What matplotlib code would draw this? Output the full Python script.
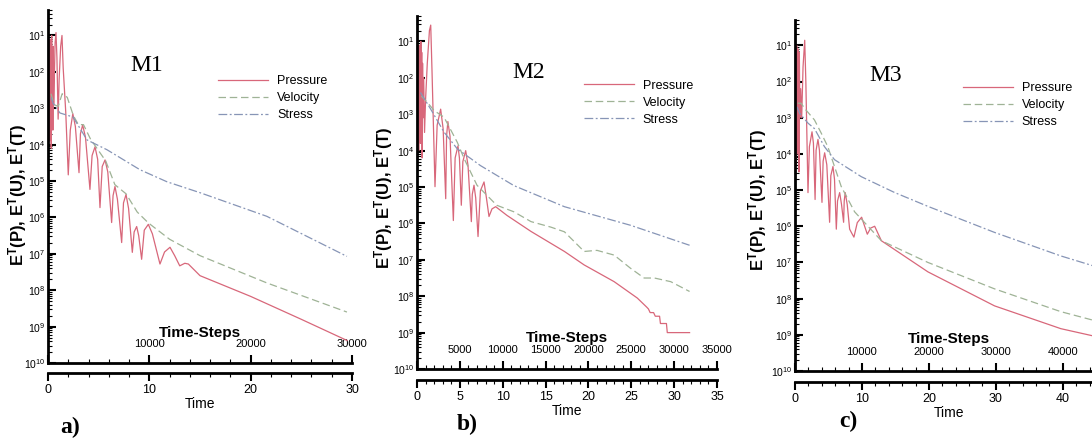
import matplotlib
matplotlib.use('Agg')
import matplotlib.pyplot as plt
import numpy as np
from matplotlib.ticker import LogLocator, NullFormatter, FuncFormatter, MultipleLocator

plt.rcParams['font.family'] = ['Liberation Sans', 'DejaVu Sans']
plt.rcParams['mathtext.fontset'] = 'custom'
plt.rcParams['mathtext.rm'] = 'Liberation Sans'
plt.rcParams['mathtext.it'] = 'Liberation Sans:italic'
plt.rcParams['mathtext.bf'] = 'Liberation Sans:bold'

# ---- data: time and log10 of the error norms ----
# panel a (M1)
t_p_a = [0.00, 0.04, 0.08, 0.12, 0.16, 0.20, 0.24, 0.28, 0.32, 0.36, 0.40, 0.44, 0.48, 0.52,
         0.56, 0.62, 0.70, 0.79, 0.88, 1.00, 1.10, 1.25, 1.38, 1.50, 1.75, 2.00, 2.20, 2.45,
         2.70, 3.06, 3.20, 3.42, 3.70, 4.14, 4.35, 4.64, 4.90, 5.13, 5.35, 5.63, 5.90, 6.28,
         6.42, 6.61, 6.85, 7.27, 7.45, 7.70, 7.95, 8.32, 8.50, 8.75, 8.95, 9.24, 9.50, 9.90,
         10.30, 11.05, 11.50, 12.04, 12.50, 13.00, 13.50, 13.85, 15.00, 20.00, 25.00, 29.50]
lp_a = [-1.8, -1.0, -3.4, -1.2, -3.9, -1.1, -3.0, -1.4, -4.1, -1.0, -3.2, -1.6, -3.6, -1.3,
        -2.9, -2.2, -1.2, -0.92, -1.6, -3.3, -2.2, -1.3, -1.0, -1.9, -3.1, -4.83, -3.6, -3.15,
        -3.5, -4.77, -3.7, -3.46, -3.8, -5.23, -4.3, -4.06, -4.4, -5.73, -4.6, -4.42, -4.75, -6.14,
        -5.4, -5.15, -5.5, -6.69, -5.6, -5.37, -5.75, -6.96, -6.4, -6.25, -6.5, -7.15, -6.35, -6.19,
        -6.45, -7.28, -6.95, -6.82, -7.05, -7.33, -7.26, -7.28, -7.60, -8.17, -8.80, -9.38]
t_u_a = [0.30, 0.60, 1.00, 1.40, 1.90, 2.50, 3.00, 3.50, 4.20, 4.70, 5.70, 6.60, 7.70, 8.80,
         9.90, 12.00, 15.00, 21.60, 29.50]
lu_a = [-2.6, -2.9, -2.95, -2.6, -2.7, -3.2, -3.45, -3.45, -3.85, -4.05, -4.45, -5.1, -5.35,
        -5.85, -6.15, -6.6, -7.05, -7.8, -8.6]
t_s_a = [0.30, 0.50, 1.18, 2.47, 3.85, 5.82, 9.08, 11.74, 15.00, 21.60, 29.50]
ls_a = [-2.7, -2.86, -3.13, -3.24, -3.87, -4.14, -4.69, -5.02, -5.32, -5.97, -7.07]

# panel b (M2)
t_p_b = [0.00, 0.05, 0.10, 0.15, 0.20, 0.25, 0.30, 0.35, 0.40, 0.45, 0.50, 0.55, 0.60, 0.65,
         0.70, 0.78, 0.88, 1.00, 1.20, 1.45, 1.60, 1.75, 2.10, 2.35, 2.76, 3.05, 3.35, 3.45,
         3.60, 3.85, 4.24, 4.45, 4.78, 4.95, 5.17, 5.35, 5.68, 5.95, 6.34, 6.45, 6.65, 6.85,
         7.12, 7.40, 7.82, 8.10, 8.40, 8.75, 9.18, 10.50, 13.30, 17.20, 19.50, 23.00, 25.70,
         26.80, 27.00, 27.20, 27.60, 27.80, 28.30, 28.40, 29.10, 29.20, 31.80]
lp_b = [-2.0, -1.0, -3.6, -1.2, -4.0, -1.1, -3.2, -1.5, -3.8, -1.0, -3.4, -1.3, -4.2, -1.6,
        -3.1, -2.0, -3.5, -2.6, -1.6, -0.7, -0.55, -1.8, -4.99, -3.3, -2.86, -3.4, -5.32, -3.6,
        -3.2, -3.6, -5.92, -4.2, -3.87, -4.2, -5.5, -4.3, -4.0, -4.4, -5.95, -5.2, -4.95, -5.3,
        -6.36, -5.1, -4.86, -5.3, -5.81, -5.6, -5.54, -5.78, -6.22, -6.77, -7.14, -7.60, -8.05,
        -8.30, -8.35, -8.45, -8.45, -8.55, -8.55, -8.75, -8.75, -9.00, -9.00]
t_u_b = [0.50, 1.20, 2.00, 3.15, 4.70, 5.50, 7.00, 9.30, 11.30, 13.30, 15.60, 17.20, 19.50,
         21.00, 23.00, 24.90, 26.50, 27.70, 29.60, 31.80]
lu_b = [-2.5, -2.67, -2.9, -3.08, -3.77, -4.22, -4.95, -5.5, -5.68, -5.95, -6.10, -6.23, -6.77,
        -6.74, -6.87, -7.23, -7.50, -7.50, -7.60, -7.87]
t_s_b = [0.40, 1.60, 3.15, 4.70, 7.40, 11.30, 17.20, 24.90, 31.80]
ls_b = [-2.4, -2.86, -3.49, -3.95, -4.41, -4.96, -5.54, -6.05, -6.60]

# panel c (M3)
t_p_c = [0.00, 0.05, 0.10, 0.15, 0.20, 0.25, 0.30, 0.35, 0.40, 0.45, 0.50, 0.55, 0.60, 0.65,
         0.72, 0.85, 1.00, 1.20, 1.45, 1.62, 1.94, 2.15, 2.54, 2.75, 3.00, 3.15, 3.43, 3.65,
         4.03, 4.20, 4.43, 4.75, 5.17, 5.35, 5.67, 5.90, 6.17, 6.35, 6.67, 6.95, 7.26, 7.35,
         7.50, 7.80, 8.16, 8.50, 8.80, 9.30, 9.95, 10.40, 10.80, 11.30, 11.90, 12.40, 12.90,
         19.85, 29.80, 39.70, 45.00]
lp_c = [-2.0, -1.0, -3.8, -1.2, -4.3, -1.0, -3.3, -1.4, -4.0, -1.1, -3.5, -1.5, -4.5, -1.2,
        -3.0, -2.2, -3.0, -1.6, -0.86, -2.0, -5.07, -3.8, -3.39, -3.7, -5.26, -3.9, -3.6, -3.9,
        -5.34, -4.2, -3.97, -4.3, -5.89, -4.6, -4.35, -4.7, -6.08, -5.3, -5.07, -5.4, -5.89, -5.3,
        -5.07, -5.4, -6.08, -6.2, -6.3, -5.9, -5.75, -6.0, -6.22, -6.05, -6.0, -6.2, -6.4,
        -7.26, -8.20, -8.83, -9.05]
t_u_c = [0.40, 0.90, 1.60, 2.90, 3.90, 4.90, 6.90, 8.90, 10.90, 12.90, 19.85, 29.80, 39.70, 45.00]
lu_c = [-2.6, -2.6, -2.78, -3.06, -3.42, -3.80, -4.90, -5.60, -6.00, -6.40, -7.00, -7.73,
        -8.36, -8.62]
t_s_c = [0.30, 0.70, 1.94, 2.90, 4.40, 5.90, 9.90, 14.90, 19.85, 29.80, 39.70, 45.00]
ls_c = [-2.7, -2.88, -3.15, -3.30, -3.80, -4.16, -4.63, -5.07, -5.45, -6.17, -6.82, -7.12]

series_names = ['Pressure', 'Velocity', 'Stress']
panel_titles = ['M1', 'M2', 'M3']
panel_tags = ['a)', 'b)', 'c)']
steps_per_time = 1000

# ---- layout (figure fractions) ----
W, H = 1092, 445
fig = plt.figure(figsize=(W / 100, H / 100), dpi=100)

panels = [
    dict(rect=[48 / W, 82 / H, 304 / W, 353 / H], xmax=30, major=10, minor=2, time_axis=-0.028,
         data=[(t_p_a, lp_a), (t_u_a, lu_a), (t_s_a, ls_a)],
         leg=(0.56, 0.816), title=(0.326, 0.844), ylab=(-0.062, 0.476), steps_y=0.105,
         tag=(70 / W, 1 - 427 / H)),
    dict(rect=[417 / W, 76 / H, 300 / W, 353 / H], xmax=35, major=5, minor=1, time_axis=-0.031,
         data=[(t_p_b, lp_b), (t_u_b, lu_b), (t_s_b, ls_b)],
         leg=(0.557, 0.82), title=(0.373, 0.841), ylab=(-0.073, 0.484), steps_y=0.107,
         tag=(467 / W, 1 - 424 / H)),
    dict(rect=[795 / W, 74 / H, 308 / W, 351 / H], xmax=46, major=10, minor=2, time_axis=-0.031,
         data=[(t_p_c, lp_c), (t_u_c, lu_c), (t_s_c, ls_c)],
         leg=(0.545, 0.823), title=(0.295, 0.843), ylab=(-0.084, 0.487), steps_y=0.11,
         tag=(848 / W, 1 - 421 / H)),
]

colors = ['#d8677a', '#9fb396', '#8795b6']
styles = ['-', (0, (6, 3)), (0, (7, 2, 1.5, 2))]


def exp_label(v, pos):
    e = int(round(-np.log10(v)))
    return r'$10^{%d}$' % e


for i, p in enumerate(panels):
    ax = fig.add_axes(p['rect'])
    for (t, lv), name, c, st in zip(p['data'], series_names, colors, styles):
        ax.plot(t, 10.0 ** np.array(lv), color=c, linestyle=st, lw=0.9, label=name)

    ax.set_yscale('log')
    ax.set_ylim(1e-10, 10 ** -0.3)
    ax.set_xlim(0, p['xmax'])

    for s in ['top', 'right']:
        ax.spines[s].set_visible(False)
    for s in ['left', 'bottom']:
        ax.spines[s].set_linewidth(2)

    # y axis
    ax.yaxis.set_major_locator(LogLocator(base=10, numticks=20))
    ax.yaxis.set_minor_locator(LogLocator(base=10, subs=np.arange(2, 10), numticks=20))
    ax.yaxis.set_major_formatter(FuncFormatter(exp_label))
    ax.yaxis.set_minor_formatter(NullFormatter())
    ax.tick_params(axis='y', which='major', direction='in', length=6, width=1.5,
                   labelsize=7.5, pad=2)
    ax.tick_params(axis='y', which='minor', direction='in', length=3, width=0.8)
    ax.set_ylabel(r'E$^{\mathbf{T}}$(P), E$^{\mathbf{T}}$(U), E$^{\mathbf{T}}$(T)',
                  fontsize=12, fontweight='bold')
    ax.yaxis.set_label_coords(*p['ylab'])

    # time-step axis (labels inside, above the line)
    ax.xaxis.set_major_locator(MultipleLocator(p['major']))
    ax.xaxis.set_minor_locator(MultipleLocator(p['minor']))
    ax.xaxis.set_major_formatter(FuncFormatter(
        lambda v, pos: '' if v == 0 else '%d' % round(v * steps_per_time)))
    ax.tick_params(axis='x', which='major', direction='in', length=6, width=1.5,
                   labelsize=8, pad=-17)
    ax.tick_params(axis='x', which='minor', direction='in', length=3, width=0.8)
    ax.set_xlabel('Time-Steps', fontsize=11, fontweight='bold')
    ax.xaxis.set_label_coords(0.5, p['steps_y'])

    # time axis below, ticks hanging down
    sec = ax.secondary_xaxis(p['time_axis'])
    sec.spines['bottom'].set_linewidth(2)
    sec.xaxis.set_major_locator(MultipleLocator(p['major']))
    sec.xaxis.set_minor_locator(MultipleLocator(p['minor']))
    sec.tick_params(axis='x', which='major', direction='out', length=6, width=1.5,
                    labelsize=9, pad=2)
    sec.tick_params(axis='x', which='minor', direction='out', length=3, width=0.8)
    sec.set_xlabel('Time', fontsize=10, labelpad=1)

    ax.legend(loc='upper left', bbox_to_anchor=p['leg'], frameon=False, fontsize=9,
              handlelength=4, handletextpad=0.7, labelspacing=0.4,
              borderaxespad=0, borderpad=0)

    ax.text(p['title'][0], p['title'][1], panel_titles[i], transform=ax.transAxes,
            ha='center', va='center', fontsize=17, family='Liberation Serif')
    fig.text(p['tag'][0], p['tag'][1], panel_tags[i], ha='center', va='center',
             fontsize=17, fontweight='bold', family='Liberation Serif')

fig.savefig('out.png', dpi=100)
